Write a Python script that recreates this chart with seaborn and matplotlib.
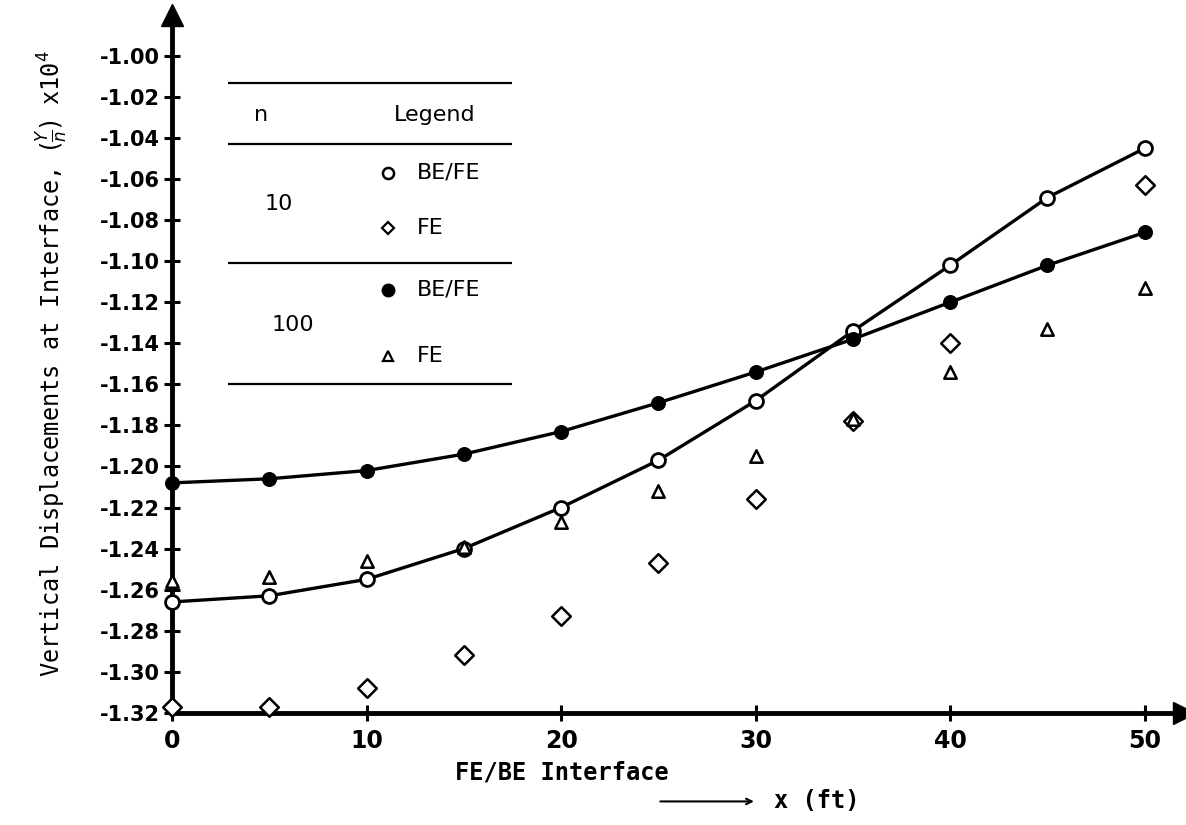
import matplotlib
matplotlib.use('Agg')
import matplotlib.pyplot as plt
import seaborn as sns
import numpy as np

# distance along interface (ft)
x_ft = [0, 5, 10, 15, 20, 25, 30, 35, 40, 45, 50]
x_fe10 = [0, 5, 10, 15, 20, 25, 30, 35, 40, 50]

# vertical displacement (Y/n) x 10^4
befe_n10 = [-1.266, -1.263, -1.255, -1.240, -1.220, -1.197, -1.168, -1.134, -1.102, -1.069, -1.045]
fe_n10 = [-1.317, -1.317, -1.308, -1.292, -1.273, -1.247, -1.216, -1.178, -1.140, -1.063]
befe_n100 = [-1.208, -1.206, -1.202, -1.194, -1.183, -1.169, -1.154, -1.138, -1.120, -1.102, -1.086]
fe_n100 = [-1.256, -1.254, -1.246, -1.239, -1.227, -1.212, -1.195, -1.177, -1.154, -1.133, -1.113]

y_ticks = np.round(np.arange(-1.32, -0.999, 0.02), 2)
x_ticks = [0, 10, 20, 30, 40, 50]

sns.set_style('ticks')
plt.rcParams['font.family'] = ['DejaVu Sans']
plt.rcParams['text.color'] = 'black'
plt.rcParams['axes.labelcolor'] = 'black'

fig = plt.figure(figsize=(11.86, 8.25), dpi=100)
ax = fig.add_axes([0.145, 0.136, 0.853, 0.846])

lw = 2.4
# n = 10, BE/FE : open circles with line
sns.lineplot(x=x_ft, y=befe_n10, ax=ax, color='black', linewidth=lw,
             marker='o', markersize=10, markerfacecolor='white',
             markeredgecolor='black', markeredgewidth=2, zorder=3, clip_on=False)
# n = 100, BE/FE : filled circles with line
sns.lineplot(x=x_ft, y=befe_n100, ax=ax, color='black', linewidth=lw,
             marker='o', markersize=10, markerfacecolor='black',
             markeredgecolor='black', zorder=3, clip_on=False)
# n = 10, FE : diamonds
sns.scatterplot(x=x_fe10, y=fe_n10, ax=ax, marker='D', s=90,
                facecolor='white', edgecolor='black', linewidth=1.8, zorder=4, clip_on=False)
# n = 100, FE : triangles
sns.scatterplot(x=x_ft, y=fe_n100, ax=ax, marker='^', s=80,
                facecolor='white', edgecolor='black', linewidth=1.8, zorder=4, clip_on=False)

ax.set_xlim(0, 52)
ax.set_ylim(-1.32, -0.98)
ax.set_xticks(x_ticks)
ax.set_xticklabels([str(t) for t in x_ticks], fontsize=17, fontweight='bold')
ax.set_yticks(y_ticks)
ax.set_yticklabels([f'{t:.2f}' for t in y_ticks], fontsize=15, fontweight='bold')
ax.tick_params(axis='both', direction='inout', length=12, width=2.2, colors='black')
ax.tick_params(axis='y', pad=3)
ax.tick_params(axis='x', pad=6)

for side in ['top', 'right']:
    ax.spines[side].set_visible(False)
for side in ['left', 'bottom']:
    ax.spines[side].set_linewidth(3.5)
    ax.spines[side].set_color('black')

# axis arrows
ax.plot(0, 1, marker='^', markersize=16, color='black', transform=ax.transAxes, clip_on=False)
ax.plot(1, 0, marker='>', markersize=16, color='black', transform=ax.transAxes, clip_on=False)

ax.set_ylabel(r'Vertical Displacements at Interface, $(\frac{Y}{n})$ x10$^4$',
              fontsize=17, family='DejaVu Sans Mono', labelpad=22)
ax.text(0.385, -0.085, 'FE/BE Interface', transform=ax.transAxes, fontsize=17,
        family='DejaVu Sans Mono', fontweight='bold', ha='center', va='center')
ax.annotate('', xy=(0.578, -0.127), xytext=(0.48, -0.127), xycoords='axes fraction',
            arrowprops=dict(arrowstyle='->', color='black', lw=1.5))
ax.text(0.595, -0.127, 'x (ft)', transform=ax.transAxes, fontsize=17,
        family='DejaVu Sans Mono', fontweight='bold', ha='left', va='center')

# legend table
for yl in [-1.013, -1.043, -1.101, -1.160]:
    ax.hlines(yl, 2.9, 17.5, color='black', linewidth=1.6)
ax.text(4.6, -1.029, 'n', fontsize=16, ha='center', va='center')
ax.text(13.5, -1.029, 'Legend', fontsize=16, ha='center', va='center')
ax.text(5.5, -1.072, '10', fontsize=16, ha='center', va='center')
ax.text(6.2, -1.131, '100', fontsize=16, ha='center', va='center')
key_x = 11.1
ax.plot(key_x, -1.057, marker='o', markersize=8, markerfacecolor='white', markeredgecolor='black', markeredgewidth=1.8)
ax.plot(key_x, -1.084, marker='D', markersize=6, markerfacecolor='white', markeredgecolor='black', markeredgewidth=1.6)
ax.plot(key_x, -1.114, marker='o', markersize=9, color='black')
ax.plot(key_x, -1.146, marker='^', markersize=7, markerfacecolor='white', markeredgecolor='black', markeredgewidth=1.6)
for yk, lab in zip([-1.057, -1.084, -1.114, -1.146], ['BE/FE', 'FE', 'BE/FE', 'FE']):
    ax.text(12.6, yk, lab, fontsize=16, ha='left', va='center')

fig.savefig('out.png', dpi=100)
